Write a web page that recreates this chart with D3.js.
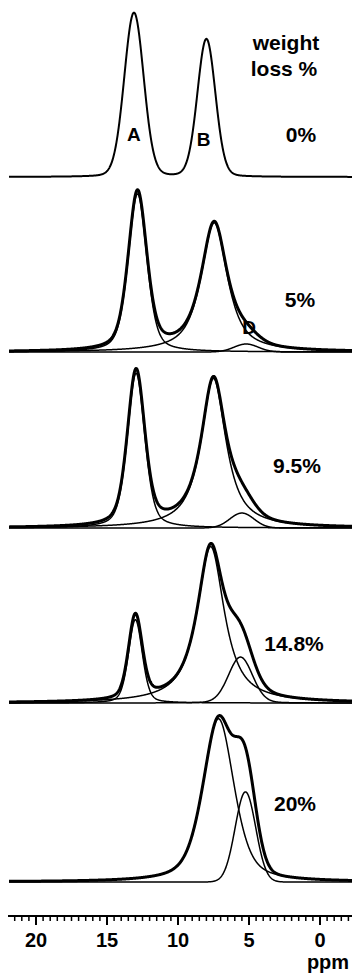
<!DOCTYPE html>
<html>
<head>
<meta charset="utf-8">
<script src="https://cdn.jsdelivr.net/npm/d3@7"></script>
<style>
  body { margin: 0; background: #fff; }
  svg { display: block; }
  text { font-family: "Liberation Sans", Arial, sans-serif; font-weight: bold; fill: #000; }
  .total { fill: none; stroke: #000; stroke-width: 3; stroke-linejoin: round; }
  .raw { fill: none; stroke: #000; stroke-width: 2; }
  .comp { fill: none; stroke: #000; stroke-width: 1.5; }
</style>
</head>
<body>
<div id="graphdiv"></div>
<script>
document.addEventListener("DOMContentLoaded", init);

// weight loss levels, top to bottom
var levels = ["0%", "5%", "9.5%", "14.8%", "20%"];

// fitted components: [centre ppm, height (a.u.), FWHM ppm, lorentz fraction]
var peakA = [[13.1, 0.965, 1.62, 0.1], [12.85, 0.93, 1.55, 0.4], [12.95, 0.91, 1.45, 0.4], [13.0, 0.49, 1.15, 0.3], null];
var peakB = [[8.0, 0.81, 1.5, 0.1], [7.45, 0.76, 2.2, 0.8], [7.5, 0.88, 2.1, 0.9], [7.7, 0.92, 2.3, 0.9], [7.15, 0.96, 2.6, 0.5]];
var peakD = [null, [5.2, 0.047, 2.0, 0], [5.5, 0.088, 2.0, 0], [5.6, 0.27, 2.0, 0.1], [5.25, 0.53, 1.7, 0]];
var showComponents = [false, true, true, true, true];

var majorTicks = [20, 15, 10, 5, 0];
var minorTicks = d3.range(21.5, -2.01, -0.5);

// layout
var baselines = [177, 352, 528, 703, 882];
var labelX = [301, 300, 297, 294, 295];
var labelY = [142, 307, 473, 651, 811];

function pv(ppm, p) {
    if (!p) return 0;
    var d = (ppm - p[0]) / (p[2] / 2);
    var L = 1 / (1 + d * d);
    var G = Math.exp(-Math.LN2 * d * d);
    return p[1] * (p[3] * L + (1 - p[3]) * G);
}

function init() {
    var W = 352, H = 976;
    var svg = d3.select("#graphdiv").append("svg").attr("id", "graph").attr("width", W).attr("height", H);

    var x = d3.scaleLinear().domain([20, 0]).range([36, 320]);
    var grid = d3.range(21.9, -2.3, -0.02);

    levels.forEach(function(lev, i) {
        var y = d3.scaleLinear().domain([0, 1]).range([baselines[i], baselines[i] - 170]);
        var line = d3.line().x(function(d) { return x(d[0]); }).y(function(d) { return y(d[1]); });
        var comps = [peakA[i], peakB[i], peakD[i]];
        if (showComponents[i]) {
            comps.forEach(function(p) {
                if (!p) return;
                svg.append("path").attr("class", "comp")
                    .attr("d", line(grid.map(function(v) { return [v, pv(v, p)]; })));
            });
        }
        var tot = grid.map(function(v) { return [v, pv(v, comps[0]) + pv(v, comps[1]) + pv(v, comps[2])]; });
        svg.append("path").attr("class", i == 0 ? "raw" : "total").attr("d", line(tot));

        svg.append("text").attr("x", labelX[i]).attr("y", labelY[i]).attr("text-anchor", "middle")
            .style("font-size", "21px").text(lev);
    });

    // header
    svg.append("text").attr("x", 286).attr("y", 50).attr("text-anchor", "middle").style("font-size", "21px").text("weight");
    svg.append("text").attr("x", 284).attr("y", 76).attr("text-anchor", "middle").style("font-size", "21px").text("loss %");

    // peak letters
    svg.append("text").attr("x", x(13.1)).attr("y", 141).attr("text-anchor", "middle").style("font-size", "19px").text("A");
    svg.append("text").attr("x", x(8.2)).attr("y", 146).attr("text-anchor", "middle").style("font-size", "19px").text("B");
    svg.append("text").attr("x", x(5.0)).attr("y", 334).attr("text-anchor", "middle").style("font-size", "19px").text("D");

    // ppm axis
    var axisY = 916;
    svg.append("line").attr("x1", 8).attr("x2", W).attr("y1", axisY).attr("y2", axisY)
        .attr("stroke", "#000").attr("stroke-width", 2);
    svg.selectAll(".minor").data(minorTicks).enter().append("line").attr("class", "minor")
        .attr("x1", function(d) { return x(d); }).attr("x2", function(d) { return x(d); })
        .attr("y1", axisY).attr("y2", axisY + 5).attr("stroke", "#000").attr("stroke-width", 1.5);
    svg.selectAll(".major").data(majorTicks).enter().append("line").attr("class", "major")
        .attr("x1", function(d) { return x(d); }).attr("x2", function(d) { return x(d); })
        .attr("y1", axisY).attr("y2", axisY + 9).attr("stroke", "#000").attr("stroke-width", 2);
    svg.selectAll(".tlab").data(majorTicks).enter().append("text").attr("class", "tlab")
        .attr("x", function(d) { return x(d); }).attr("y", 947).attr("text-anchor", "middle")
        .style("font-size", "20px").text(function(d) { return d; });
    svg.append("text").attr("x", 328).attr("y", 969).attr("text-anchor", "middle").style("font-size", "20px").text("ppm");
}
</script>
</body>
</html>
